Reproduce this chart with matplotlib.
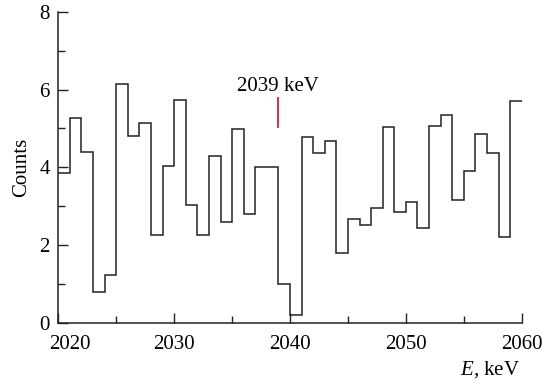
import numpy as np
import matplotlib
matplotlib.use("Agg")
import matplotlib.pyplot as plt
from matplotlib.ticker import MultipleLocator, FuncFormatter

plt.rcParams['font.family'] = ['Liberation Serif', 'DejaVu Serif']
plt.rcParams['mathtext.fontset'] = 'custom'
plt.rcParams['mathtext.it'] = 'Liberation Serif:italic'
plt.rcParams['mathtext.rm'] = 'Liberation Serif'

# 1 keV bins from 2020 to 2060
bin_edges = np.arange(2020, 2061, 1)
counts = [3.86, 5.28, 4.39, 0.79, 1.22, 6.14, 4.81, 5.15, 2.26, 4.04,
          5.74, 3.02, 2.27, 4.28, 2.60, 4.99, 2.79, 4.01, 4.01, 1.00,
          0.20, 4.78, 4.37, 4.67, 1.79, 2.66, 2.53, 2.96, 5.05, 2.86,
          3.10, 2.44, 5.06, 5.35, 3.16, 3.90, 4.87, 4.38, 2.22, 5.71]

q_value = 2039          # keV
marker_span = [5.05, 5.79]
label_y = 5.97

fs = 15
xpad = 8.5

fig = plt.figure(figsize=(5.43, 3.83), dpi=100)
ax = fig.add_axes([0.1074, 0.157, 0.8534, 0.812])

ax.stairs(counts, bin_edges, baseline=None, color='#222222', lw=1.1)
ax.plot([q_value, q_value], marker_span, color='#d4213a', lw=1.3)
ax.text(q_value, label_y, f'{q_value} keV', ha='center', va='baseline', fontsize=fs)

ax.set_xlim(2020, 2060)
ax.set_ylim(0, 8)
ax.xaxis.set_major_locator(MultipleLocator(10))
ax.xaxis.set_minor_locator(MultipleLocator(5))
ax.yaxis.set_major_locator(MultipleLocator(2))
ax.yaxis.set_minor_locator(MultipleLocator(1))
# first x label is drawn separately, shifted right so it clears the "0"
ax.xaxis.set_major_formatter(FuncFormatter(lambda v, p: '' if v == 2020 else f'{v:.0f}'))
ax.annotate('2020', xy=(2020, 0), xytext=(8.6, -xpad), textcoords='offset points',
            ha='center', va='top', fontsize=fs)

ax.tick_params(which='both', direction='in', colors='#222222', labelcolor='black',
               labelsize=fs, width=1.0)
ax.tick_params(which='major', length=7)
ax.tick_params(which='minor', length=5)
ax.tick_params(axis='x', which='major', pad=xpad)
ax.tick_params(axis='y', which='major', pad=6)

for side in ['top', 'right']:
    ax.spines[side].set_visible(False)
for side in ['left', 'bottom']:
    ax.spines[side].set_linewidth(1.1)
    ax.spines[side].set_color('#222222')

ax.set_ylabel('Counts', fontsize=fs)
ax.yaxis.set_label_coords(-0.058, 0.5)
ax.text(0.996, -0.167, '$E$, keV', transform=ax.transAxes,
        ha='right', va='baseline', fontsize=fs)

fig.savefig('out.png', dpi=100)
